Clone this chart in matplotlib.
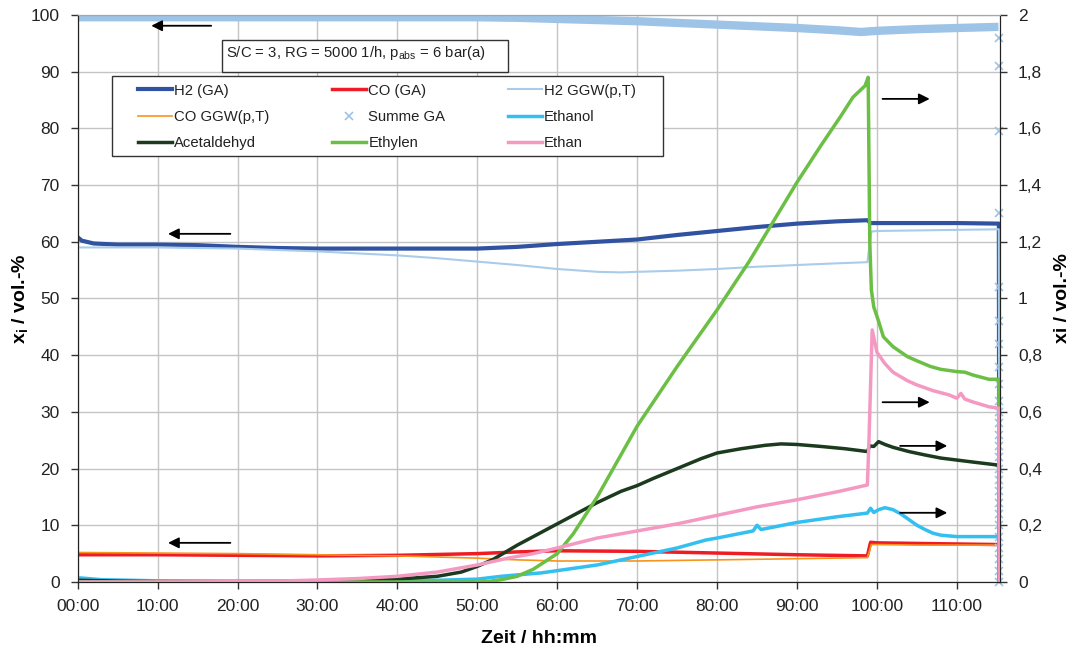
import matplotlib
matplotlib.use("Agg")
import matplotlib.pyplot as plt
from matplotlib.patches import Rectangle
from matplotlib.ticker import FuncFormatter

# === Data ===
# left axis, vol.-%
t_h2 = [0, 0.5, 2, 5, 10, 15, 20, 25, 30, 35, 40, 45, 50, 55, 60, 65, 70, 75,
        80, 85, 90, 95, 98.8, 99.2, 100, 105, 110, 115.25, 115.3]
h2_ga = [60.8, 60.2, 59.7, 59.5, 59.5, 59.4, 59.1, 58.9, 58.8, 58.8, 58.8, 58.8,
         58.8, 59.1, 59.6, 60.0, 60.4, 61.2, 61.9, 62.6, 63.2, 63.6, 63.8, 63.3,
         63.3, 63.3, 63.3, 63.2, 0]

t_h2g = [0, 10, 20, 30, 40, 45, 50, 55, 60, 65, 68, 70, 75, 80, 85, 90, 95,
         98.8, 99.3, 100, 105, 110, 115.25, 115.3]
h2_ggw = [59.0, 59.0, 58.8, 58.3, 57.6, 57.1, 56.5, 55.9, 55.2, 54.7, 54.6, 54.7,
          54.9, 55.2, 55.6, 55.9, 56.2, 56.4, 61.8, 61.9, 62.0, 62.1, 62.2, 0]

t_co = [0, 10, 20, 30, 40, 50, 55, 60, 70, 80, 90, 98.8, 99.2, 100, 105, 110,
        115.25, 115.3]
co_ga = [4.8, 4.8, 4.7, 4.6, 4.7, 5.0, 5.3, 5.5, 5.4, 5.1, 4.8, 4.6, 7.0, 6.9,
         6.8, 6.7, 6.6, 0]

t_cog = [0, 10, 20, 30, 40, 45, 50, 55, 60, 70, 80, 90, 98.8, 99.3, 100, 105,
         110, 115.25, 115.3]
co_ggw = [5.2, 5.1, 5.0, 4.8, 4.6, 4.4, 4.2, 3.9, 3.7, 3.7, 3.9, 4.1, 4.3, 6.6,
          6.6, 6.5, 6.5, 6.5, 0]

t_sum = [0, 10, 20, 30, 40, 50, 55, 60, 65, 70, 75, 80, 85, 90, 95, 98, 100,
         105, 110, 115.2]
summe_ga = [99.6, 99.6, 99.6, 99.6, 99.6, 99.6, 99.5, 99.3, 99.1, 98.9, 98.6,
            98.3, 98.0, 97.7, 97.3, 97.0, 97.2, 97.5, 97.7, 97.9]
t_sum_end = 115.3
summe_ga_end = [96, 91, 79.5, 65, 52, 46, 42, 38, 35, 32, 30, 28, 26, 24, 22,
                20, 18, 16, 14, 12, 10, 8, 6, 4, 2, 0]

# right axis, vol.-%
t_eth = [0, 3, 10, 20, 30, 40, 45, 50, 53, 55, 58, 60, 65, 68, 70, 75, 78.6, 80,
         84.5, 85, 85.5, 90, 95, 98.8, 99.2, 99.6, 100.2, 101, 102, 103, 104,
         105, 106, 107, 108, 110, 115.25, 115.3]
ethanol = [0.015, 0.008, 0.004, 0.003, 0.003, 0.005, 0.006, 0.01, 0.02, 0.025,
           0.032, 0.04, 0.06, 0.078, 0.09, 0.12, 0.148, 0.155, 0.18, 0.2, 0.185,
           0.21, 0.23, 0.243, 0.26, 0.245, 0.255, 0.262, 0.255, 0.24, 0.22, 0.2,
           0.185, 0.172, 0.165, 0.16, 0.16, 0]

t_ac = [0, 5, 10, 20, 30, 35, 40, 45, 48, 50, 52, 55, 58, 60, 62, 65, 68, 70, 72,
        75, 78, 80, 83, 86, 88, 90, 93, 96, 98.8, 99.1, 99.6, 100.2, 101, 102,
        104, 106, 108, 110, 112, 115.25, 115.3]
acetaldehyd = [0.006, 0.003, 0.001, 0.001, 0.002, 0.005, 0.01, 0.02, 0.035,
               0.055, 0.08, 0.13, 0.175, 0.205, 0.235, 0.28, 0.32, 0.34, 0.365,
               0.40, 0.435, 0.455, 0.47, 0.482, 0.487, 0.485, 0.478, 0.47, 0.46,
               0.48, 0.478, 0.495, 0.485, 0.475, 0.46, 0.448, 0.437, 0.43, 0.423,
               0.412, 0]

t_ey = [0, 50, 51.5, 53, 55, 57, 60, 62, 65, 70, 75, 80, 84, 87, 90, 93, 95.4,
        97, 98.5, 98.9, 99.1, 99.3, 99.6, 100.2, 100.8, 102, 103.8, 105, 106.7,
        108, 110, 111, 112, 114, 115.25, 115.3]
ethylen = [0, 0, 0.002, 0.008, 0.02, 0.045, 0.1, 0.17, 0.3, 0.55, 0.76, 0.96,
           1.13, 1.27, 1.41, 1.54, 1.64, 1.71, 1.75, 1.78, 1.2, 1.03, 0.97, 0.92,
           0.865, 0.83, 0.795, 0.78, 0.76, 0.75, 0.742, 0.74, 0.73, 0.715, 0.715, 0]

t_ea = [0, 10, 20, 25, 30, 35, 40, 45, 50, 54, 57, 60, 65, 70, 75, 80, 85, 90, 95,
        98.8, 99.0, 99.4, 100, 101, 102, 103.8, 105, 107, 109, 110, 110.5, 111,
        112, 114, 115.25, 115.3]
ethan = [0, 0, 0.001, 0.003, 0.007, 0.012, 0.02, 0.035, 0.06, 0.085, 0.1, 0.12,
         0.155, 0.18, 0.205, 0.235, 0.265, 0.29, 0.318, 0.342, 0.5, 0.889, 0.81,
         0.77, 0.74, 0.71, 0.695, 0.675, 0.66, 0.648, 0.665, 0.645, 0.635, 0.618,
         0.613, 0]

# arrows (x start, x end, y) in left-axis units
arrows = [(16.7, 9.2, 98.1), (19.1, 11.3, 61.4), (19.1, 11.3, 6.9),
          (100.7, 106.6, 85.2), (100.7, 106.6, 31.7),
          (102.9, 108.8, 24.0), (102.9, 108.8, 12.2)]

x_ticks = list(range(0, 111, 10))
x_ticklabels = [f"{h:02d}:00" for h in x_ticks]

# === Style ===
plt.rcParams.update({
    "font.family": ["Liberation Sans", "DejaVu Sans"],
    "mathtext.fontset": "custom",
    "mathtext.rm": "Liberation Sans",
    "mathtext.bf": "Liberation Sans:bold",
    "font.size": 12.5,
})

c_h2 = "#3052A0"
c_co = "#EE1C25"
c_h2g = "#A9CCEB"
c_cog = "#F7941D"
c_sum = "#9DC3E6"
c_eth = "#33BFEF"
c_ac = "#1B3A1E"
c_ey = "#6BBF45"
c_ea = "#F49AC2"

fig = plt.figure(figsize=(10.69, 6.48), dpi=100)
ax = fig.add_axes([0.0727, 0.1019, 0.8628, 0.875])
ax2 = ax.twinx()

# primary axis
l_h2, = ax.plot(t_h2, h2_ga, color=c_h2, lw=3, label="H2 (GA)")
l_co, = ax.plot(t_co, co_ga, color=c_co, lw=2.5, label="CO (GA)")
l_h2g, = ax.plot(t_h2g, h2_ggw, color=c_h2g, lw=1.5, label="H2 GGW(p,T)")
l_cog, = ax.plot(t_cog, co_ggw, color=c_cog, lw=1.2, label="CO GGW(p,T)")
ax.plot(t_sum, summe_ga, color=c_sum, lw=6, solid_capstyle="butt")
l_sum, = ax.plot([t_sum_end] * len(summe_ga_end), summe_ga_end, ls="none",
                 marker="x", ms=6, mew=1.2, color=c_sum, clip_on=False,
                 label="Summe GA")

# secondary axis
l_eth, = ax2.plot(t_eth, ethanol, color=c_eth, lw=2.5, label="Ethanol")
l_ac, = ax2.plot(t_ac, acetaldehyd, color=c_ac, lw=2.5, label="Acetaldehyd")
l_ey, = ax2.plot(t_ey, ethylen, color=c_ey, lw=2.5, label="Ethylen")
l_ea, = ax2.plot(t_ea, ethan, color=c_ea, lw=2.5, label="Ethan")

for x0, x1, y in arrows:
    ax2.annotate("", xy=(x1, y), xytext=(x0, y), xycoords=ax.transData,
                 textcoords=ax.transData,
                 arrowprops=dict(arrowstyle="-|>", color="black", lw=1.3,
                                 mutation_scale=16, shrinkA=0, shrinkB=0))

# axes
ax.set_xlim(0, 115.4)
ax.set_ylim(0, 100)
ax2.set_ylim(0, 2)
ax.set_xticks(x_ticks)
ax.set_xticklabels(x_ticklabels)
ax.set_yticks(range(0, 101, 10))
ax2.set_yticks([i * 0.2 for i in range(11)])
ax2.yaxis.set_major_formatter(FuncFormatter(lambda v, p: f"{v:.1f}".rstrip("0").rstrip(".").replace(".", ",")))
ax.grid(True, color="#C4C4C4", lw=1)
ax.set_axisbelow(True)
for a in (ax, ax2):
    a.tick_params(direction="out", length=5, width=1, color="#333333",
                  labelcolor="#222222")
ax.tick_params(axis="y", pad=8)
ax.tick_params(axis="x", pad=7)
ax2.tick_params(axis="y", pad=8)
for a in (ax, ax2):
    a.spines["top"].set_color("#A6A6A6")
    for s in ("left", "right", "bottom"):
        a.spines[s].set_color("#222222")

ax.set_xlabel("Zeit / hh:mm", fontsize=14, fontweight="bold", labelpad=12)
ax.set_ylabel(r"$\mathbf{x}_\mathbf{i}$ / vol.-%", fontsize=14,
              fontweight="bold")
ax.yaxis.set_label_coords(-0.051, 0.5)
ax2.set_ylabel("xi / vol.-%", fontsize=14, fontweight="bold", rotation=90)
ax2.yaxis.set_label_coords(1.058, 0.5)

# text box
ax2.add_patch(Rectangle((0.1565, 0.8995), 0.3101, 0.0564, transform=ax2.transAxes,
                        facecolor="white", edgecolor="#333333", lw=1, zorder=5))
ax2.text(0.1605, 0.949, r"S/C = 3, RG = 5000 1/h, p$_\mathrm{abs}$ = 6 bar(a)",
         transform=ax2.transAxes, ha="left", va="top", fontsize=10.7,
         color="#222222", zorder=6)

# legend (row-wise order like the original)
ax2.add_patch(Rectangle((0.0372, 0.7513), 0.5974, 0.1411, transform=ax2.transAxes,
                        facecolor="white", edgecolor="#333333", lw=1, zorder=5))
handles = [l_h2, l_cog, l_ac, l_co, l_sum, l_ey, l_h2g, l_eth, l_ea]
leg = ax2.legend(handles, [h.get_label() for h in handles], ncol=3,
                 loc="upper left", bbox_to_anchor=(0.0654, 0.879, 0.540, 0.0),
                 bbox_transform=ax2.transAxes, mode="expand", frameon=False,
                 borderpad=0, borderaxespad=0, handlelength=2.3,
                 handletextpad=0.15, labelspacing=0.82, fontsize=10.7)
leg.set_zorder(7)
for t in leg.get_texts():
    t.set_color("#222222")

fig.savefig("out.png", dpi=100)
